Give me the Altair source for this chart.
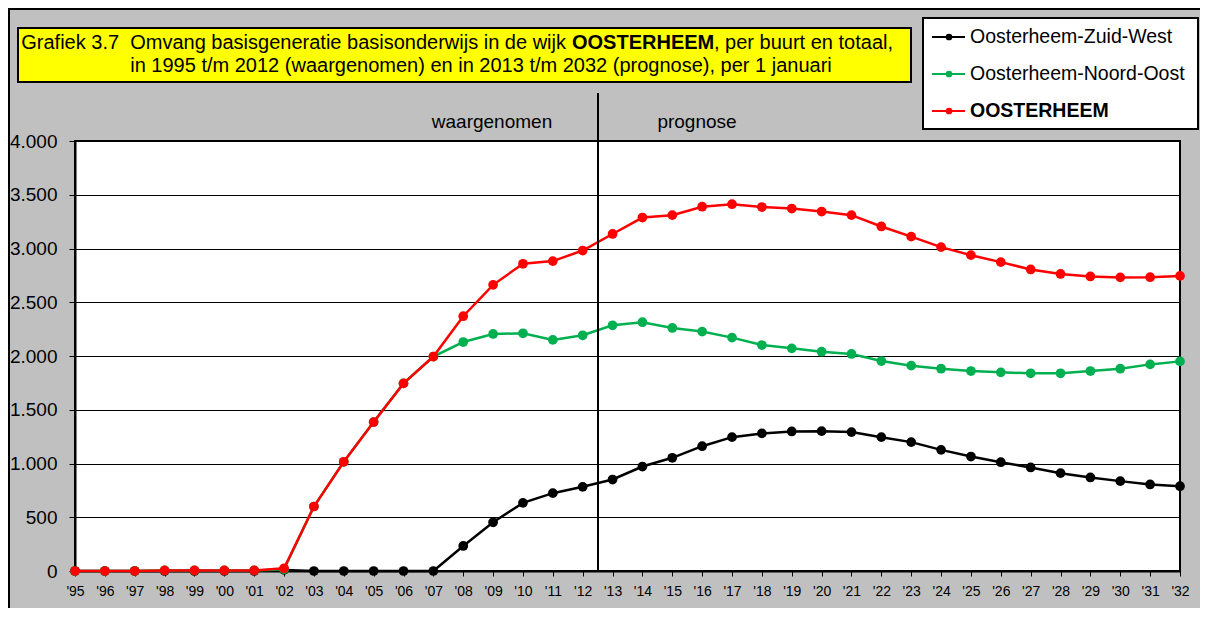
import altair as alt
import pandas as pd

# ---------------- data ----------------
jaren = ["'95", "'96", "'97", "'98", "'99", "'00", "'01", "'02", "'03", "'04",
         "'05", "'06", "'07", "'08", "'09", "'10", "'11", "'12", "'13", "'14",
         "'15", "'16", "'17", "'18", "'19", "'20", "'21", "'22", "'23", "'24",
         "'25", "'26", "'27", "'28", "'29", "'30", "'31", "'32"]

zuid_west = [0, 0, 0, 0, 0, 0, 0, 10, 0, 0, 0, 0, 0,
             233, 453, 634, 724, 783,
             851, 972, 1053, 1161, 1245, 1280, 1298, 1301, 1292, 1245,
             1199, 1127, 1065, 1012, 963, 910, 870, 836, 805, 789]

noord_oost = [0, 0, 0, 5, 5, 5, 5, 15, 600, 1016, 1385, 1745, 1995,
              2130, 2205, 2211, 2150, 2193,
              2286, 2314, 2261, 2227, 2171, 2102, 2071, 2040, 2019, 1953,
              1910, 1882, 1860, 1848, 1839, 1839, 1860, 1882, 1922, 1950]

oosterheem = [0, 0, 0, 5, 5, 5, 5, 25, 600, 1016, 1385, 1745, 1995,
              2370, 2662, 2858, 2883, 2981,
              3135, 3288, 3310, 3389, 3412, 3386, 3372, 3344, 3310, 3205,
              3110, 3013, 2938, 2873, 2805, 2763, 2740, 2731, 2733, 2745]

reeksen = ["Oosterheem-Zuid-West", "Oosterheem-Noord-Oost", "OOSTERHEEM"]
kleuren = ["#000000", "#00B050", "#FF0000"]
waarden = [zuid_west, noord_oost, oosterheem]

y_ticks = [0, 500, 1000, 1500, 2000, 2500, 3000, 3500, 4000]

titel_1a = "Grafiek 3.7\u00a0\u00a0Omvang basisgeneratie basisonderwijs in de wijk"
titel_1b = "OOSTERHEEM"
titel_1c = ", per buurt en totaal,"
titel_2 = "in 1995 t/m 2012 (waargenomen) en in 2013 t/m 2032 (prognose), per 1 januari"

FONT = "Liberation Sans"

# ---------------- chart ----------------
x_axis = alt.Axis(title=None, labelAngle=0, labelFontSize=14, labelFont=FONT,
                  labelColor="black", tickColor="black", tickSize=5, tickWidth=1,
                  domainColor="black", domainWidth=2, labelPadding=8,
                  grid=False, labelOverlap=False)
y_axis = alt.Axis(title=None, values=y_ticks,
                  labelExpr="replace(format(datum.value, ','), ',', '.')",
                  labelFontSize=19, labelFont=FONT, labelColor="black",
                  tickColor="black", tickSize=6, tickWidth=1,
                  domainColor="black", domainWidth=2, labelPadding=12,
                  grid=True, gridColor="black", gridWidth=1, gridOpacity=1)

x_enc = alt.X("jaar:O", sort=jaren, scale=alt.Scale(type="point", padding=0), axis=x_axis)
y_enc = alt.Y("waarde:Q", scale=alt.Scale(domain=[0, 4000], nice=False), axis=y_axis)

layers = []
for naam, kleur, vals in zip(reeksen, kleuren, waarden):
    d = pd.DataFrame({"jaar": jaren, "waarde": vals, "reeks": naam})
    base = alt.Chart(d).encode(x=x_enc, y=y_enc)
    layers.append(base.mark_line(color=kleur, strokeWidth=2.5))
    layers.append(base.mark_circle(color=kleur, size=95, opacity=1))

dummy = pd.DataFrame({"a": [0]})

def txt(text, x, y, size=19, weight="normal", align="left", baseline="middle"):
    return alt.Chart(dummy).mark_text(
        text=text, font=FONT, fontSize=size, fontWeight=weight, align=align,
        baseline=baseline, color="black"
    ).encode(x=alt.value(x), y=alt.value(y))

def box(x1, x2, y1, y2, fill, stroke="black", sw=2):
    return alt.Chart(dummy).mark_rect(fill=fill, stroke=stroke, strokeWidth=sw).encode(
        x=alt.value(x1), x2=alt.value(x2), y=alt.value(y1), y2=alt.value(y2))

def rule(x1, x2, y1, y2, color="black", sw=2):
    return alt.Chart(dummy).mark_rule(color=color, strokeWidth=sw).encode(
        x=alt.value(x1), x2=alt.value(x2), y=alt.value(y1), y2=alt.value(y2))

annot = []
# outer frame (top and left)
annot.append(rule(-66, -66, -133, 470, sw=2))
annot.append(rule(-67, 1125, -132, -132, sw=2))
# divider observed / forecast
annot.append(rule(523, 523, -48, 430, sw=2))
annot.append(txt("waargenomen", 417, -19, align="center"))
annot.append(txt("prognose", 622, -19, align="center"))
# title box
annot.append(box(-57, 836, -113, -59, "#FFFF00"))
annot.append(txt(titel_1a, 491, -92, size=20, align="right", baseline="alphabetic"))
annot.append(txt(titel_1b, 497, -92, size=20, weight="bold", baseline="alphabetic"))
annot.append(txt(titel_1c, 639, -92, size=20, baseline="alphabetic"))
annot.append(txt(titel_2, 406, -69, size=20, align="center", baseline="alphabetic"))
# legend
annot.append(box(848, 1123, -123, -12, "white"))
rows_y = [-104, -67, -30]
for naam, kleur, ry in zip(reeksen, kleuren, rows_y):
    annot.append(rule(857, 890, ry, ry, color=kleur, sw=2))
    annot.append(alt.Chart(dummy).mark_circle(color=kleur, size=45, opacity=1).encode(
        x=alt.value(874), y=alt.value(ry)))
    annot.append(txt(naam, 895, ry, size=19.5,
                     weight="bold" if naam == "OOSTERHEEM" else "normal"))

chart = alt.layer(*layers, *annot).properties(
    width=1105, height=430,
    autosize=alt.AutoSizeParams(type="none"),
    padding={"left": 67, "top": 133, "right": 20, "bottom": 37},
    background="#C0C0C0",
).configure_view(fill="white", stroke="black", strokeWidth=2)

chart.save("out.html", embed_options={"renderer": "svg", "actions": False})
